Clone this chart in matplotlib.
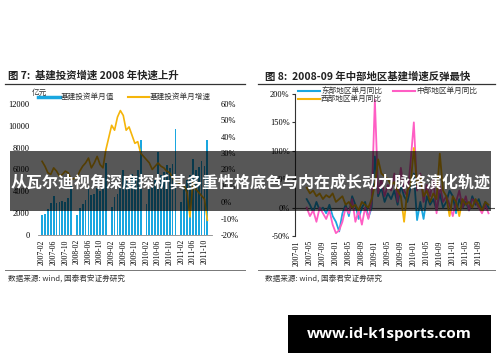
import numpy as np
import matplotlib
matplotlib.use("Agg")
import matplotlib.pyplot as plt
from matplotlib.patches import Rectangle
from matplotlib.lines import Line2D

plt.rcParams['font.family'] = ['Noto Sans CJK SC', 'DejaVu Sans']

W, H = 500, 362

# ---- figure 7 data: monthly infrastructure investment (Jan not reported)
bar_months = []          # month index, 0 = 2007-02
for y in range(2007, 2012):
    for mo in range(1, 13):
        idx = (y - 2007) * 12 + mo - 2
        if mo == 1 or idx < 0 or idx > 57:
            continue
        bar_months.append(idx)
bar_values = [1800, 1900, 2400, 2900, 3600, 2900, 3000, 3100, 3000, 3400, 4500,
              1800, 2500, 2800, 3200, 4500, 3700, 3800, 4300, 4000, 4500, 6600,
              2600, 3500, 3800, 4300, 6000, 5000, 5000, 5600, 5300, 6000, 8700,
              2800, 4200, 4500, 5000, 7600, 5500, 5800, 6400, 6100, 6500, 9700,
              3000, 4400, 5000, 5500, 7000, 6000, 6200, 6800, 6300, 8700]
growth = [25, 22, 18, 17, 21, 19, 16, 17, 19, 18, 14,
          15, 19, 22, 24, 27, 21, 24, 28, 23, 21, 32,
          47, 44, 52, 56, 53, 44, 46, 41, 36, 37, 30,
          26, 24, 20, 22, 24, 22, 21, 19, 18, 15, 13,
          11, 10, 6, -9, 12, 8, 6, 4, 2, -11]
ticks7 = list(range(0, 57, 4))
ticklabels7 = ["2007-02", "2007-06", "2007-10", "2008-02", "2008-06", "2008-10",
               "2009-02", "2009-06", "2009-10", "2010-02", "2010-06", "2010-10",
               "2011-02", "2011-06", "2011-10"]

# ---- figure 8 data: regional yoy growth, 2007-04 .. 2011-12 (index 0 = 2007-01)
reg_months = list(range(3, 60))
east = [15, 5, -8, 10, -5, 0, -10, 5, -15,
        -25, -42, -10, 5, -15, 20, 5, -20, 0, 10, -18, 0,
        90, 20, 35, 10, 25, 15, 30, 5, 40, 20, 10, 35,
        60, -22, 10, -20, 20, 5, 15, -5, 25, 0, 10, 30,
        20, -10, 15, 0, 10, -5, 20, 5, 15, -5, 10, 0]
central = [0, -15, -5, -25, 0, -10, -20, -5, -30,
           -45, -40, -25, 0, -10, 15, -25, -5, -30, 0, -20, 10,
           190, 25, 50, 20, 40, 30, 60, 10, 70, 30, 20, 80,
           150, 30, 60, 10, 40, 20, 50, -10, 40, 10, 20, 5,
           -15, 10, 30, 0, 20, -5, 15, 10, 0, -10, 5, -10]
west = [35, 25, 30, 20, 25, 15, 22, 18, 25,
        10, 15, 20, 5, 10, 0, 5, -5, 10, 5, 0, 15,
        40, 85, 60, 55, 50, 40, 45, 30, 20, -25, 30, 40,
        105, 40, 55, 20, 30, 10, 25, 15, 95, 30, 20, -15,
        20, 10, -15, 15, 5, 10, 0, 15, 5, -5, 10, 5]
ticks8 = list(range(0, 60, 4))
ticklabels8 = ["2007-01", "2007-05", "2007-09", "2008-01", "2008-05", "2008-09",
               "2009-01", "2009-05", "2009-09", "2010-01", "2010-05", "2010-09",
               "2011-01", "2011-05", "2011-09"]

BLUE = '#1aa7e0'
ORANGE = '#f5b50a'
PINK = '#ff5ec4'
serif = 'Liberation Serif'


def fx(x):
    return x / W


def fy(y):
    return 1 - y / H


def rect(l, t, r, b):
    return [fx(l), fy(b), (r - l) / W, (b - t) / H]


fig = plt.figure(figsize=(W / 100, H / 100), dpi=100)

# ---------------- left chart
ax1 = fig.add_axes(rect(38, 104, 212, 235))
ax1.bar(bar_months, bar_values, width=0.6, color=BLUE, zorder=1)
ax1.set_xlim(-1.4, 58.6)
ax1.set_ylim(0, 12000)
ax1.set_yticks(range(0, 12001, 2000))
ax1.set_xticks(ticks7)
ax1.set_xticklabels(ticklabels7, rotation=90, fontsize=5.5, family=serif)
for s in ['top', 'right', 'left']:
    ax1.spines[s].set_visible(False)
ax1.spines['bottom'].set_color('#888888')
ax1.spines['bottom'].set_linewidth(0.6)
ax1.tick_params(axis='y', length=0, labelsize=6, pad=6)
ax1.tick_params(axis='x', length=0, pad=3)
for t in ax1.get_yticklabels():
    t.set_family(serif)

ax1b = ax1.twinx()
ax1b.plot(bar_months, growth, color=ORANGE, lw=1.2, zorder=3)
ax1b.set_ylim(-20, 60)
ax1b.set_yticks(range(-20, 61, 10))
ax1b.set_yticklabels([f"{v}%" for v in range(-20, 61, 10)], family=serif)
for s in ['top', 'right', 'left', 'bottom']:
    ax1b.spines[s].set_visible(False)
ax1b.tick_params(axis='y', length=0, labelsize=6, pad=6)

# ---------------- right chart
ax2 = fig.add_axes(rect(295, 94, 495, 236))
ax2.plot(reg_months, east, color=BLUE, lw=1.3)
ax2.plot(reg_months, central, color=PINK, lw=1.3)
ax2.plot(reg_months, west, color=ORANGE, lw=1.3)
ax2.axhline(0, color='#555555', lw=0.8, zorder=0)
ax2.set_xlim(-0.6, 61)
ax2.set_ylim(-50, 200)
ax2.set_yticks(range(-50, 201, 50))
ax2.set_yticklabels([f"{v}%" for v in range(-50, 201, 50)], family=serif)
ax2.set_xticks(ticks8)
ax2.set_xticklabels(ticklabels8, rotation=90, fontsize=5.5, family=serif)
for s in ['top', 'right', 'bottom']:
    ax2.spines[s].set_visible(False)
ax2.spines['left'].set_color('#333333')
ax2.spines['left'].set_linewidth(0.8)
ax2.tick_params(axis='y', length=2, labelsize=6, pad=2, color='#333333')
ax2.tick_params(axis='x', length=0, pad=3)

# ---------------- titles, rules, legends, sources
fig.text(fx(8), fy(76), "图 7:  基建投资增速 2008 年快速上升", fontsize=7.5, weight='bold',
         va='center', color='#222222')
fig.text(fx(265), fy(77), "图 8:  2008-09 年中部地区基建增速反弹最快", fontsize=7.5, weight='bold',
         va='center', color='#222222')
for x0, x1 in [(5, 245), (258, 495)]:
    fig.add_artist(Line2D([fx(x0), fx(x1)], [fy(84), fy(84)], color='#333333', lw=0.9))
    fig.add_artist(Line2D([fx(x0), fx(x1)], [fy(270), fy(270)], color='#777777', lw=0.7))
fig.text(fx(8), fy(279), "数据来源: wind, 国泰君安证券研究", fontsize=5.5, va='center', color='#333333')
fig.text(fx(265), fy(279), "数据来源: wind, 国泰君安证券研究", fontsize=5.5, va='center', color='#333333')

fig.text(fx(32), fy(93), "亿元", fontsize=5.5, va='center', color='#333333')
fig.add_artist(Line2D([fx(38), fx(60)], [fy(97), fy(97)], color=BLUE, lw=2.5))
fig.text(fx(61), fy(97), "基建投资单月值", fontsize=5.5, va='center', color='#333333')
fig.add_artist(Line2D([fx(128), fx(149)], [fy(97), fy(97)], color=ORANGE, lw=1.5))
fig.text(fx(150), fy(97), "基建投资单月增速", fontsize=5.5, va='center', color='#333333')

for (x0, y0, c, lab) in [(298, 91, BLUE, "东部地区单月同比"), (393, 91, PINK, "中部地区单月同比"),
                         (298, 99, ORANGE, "西部地区单月同比")]:
    fig.add_artist(Line2D([fx(x0), fx(x0 + 22)], [fy(y0), fy(y0)], color=c, lw=1.5))
    fig.text(fx(x0 + 23), fy(y0), lab, fontsize=5.5, va='center', color='#333333')

# ---------------- overlay banners
fig.add_artist(Rectangle((fx(10), fy(211)), (491 - 10) / W, (211 - 151) / H,
                         transform=fig.transFigure, color='black', alpha=0.66, lw=0, zorder=10))
fig.text(fx(251), fy(183), "从瓦尔迪视角深度探析其多重性格底色与内在成长动力脉络演化轨迹",
         fontsize=11.5, weight='bold', color='white', ha='center', va='center', zorder=11)
fig.add_artist(Rectangle((fx(288), fy(353)), (491 - 288) / W, (353 - 315) / H,
                         transform=fig.transFigure, color='black', lw=0, zorder=10))
fig.text(fx(389), fy(334), "www.id-k1sports.com", fontsize=11, weight='bold', family='Open Sans',
         color='white', ha='center', va='center', zorder=11)

fig.savefig("out.png", dpi=100)
